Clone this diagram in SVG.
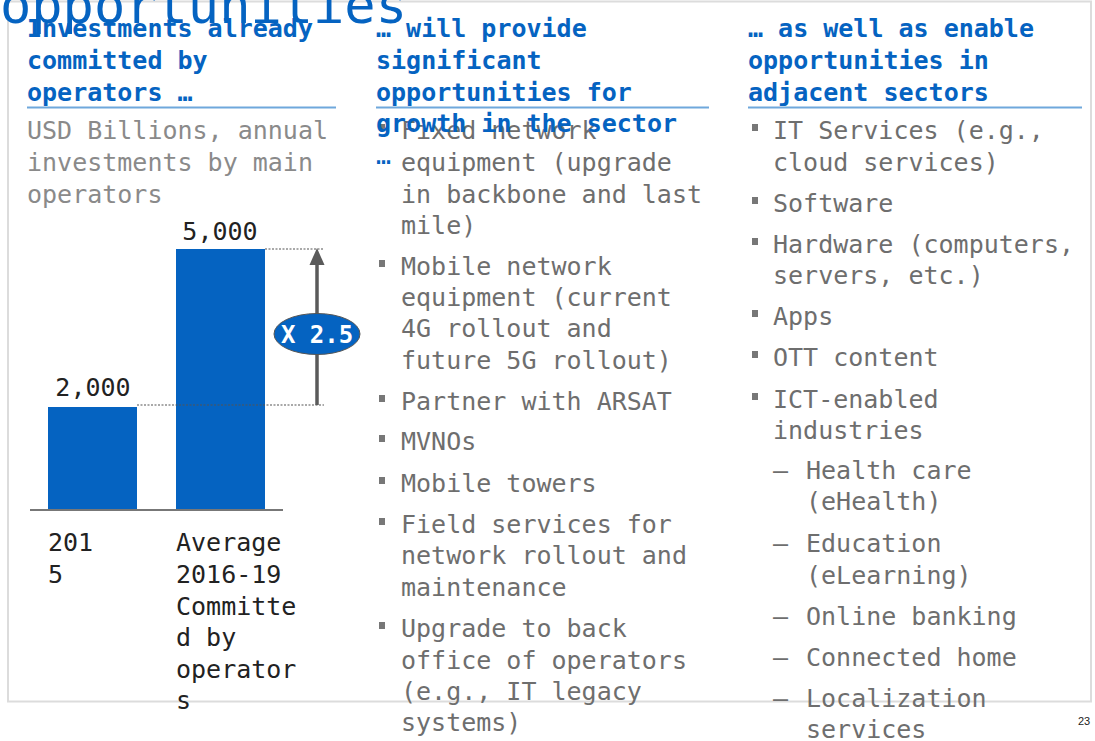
<svg xmlns="http://www.w3.org/2000/svg" width="1095" height="741" viewBox="0 0 1095 741">
<style>
text{font-family:"DejaVu Sans Mono","Liberation Mono",monospace;font-size:25px}
.title{font-size:52px;fill:#0563c1}
.hd{font-weight:bold;fill:#0563c1}
.sub{fill:#8a8a8a}
.bl{fill:#6e6e6e}
.lbl{fill:#222}
.rule{stroke:#6fa8dc;stroke-width:2}
.bul{fill:#777}
.bar{fill:#0563c1}
.dot{stroke:#555;stroke-width:1.2;stroke-dasharray:2 1.5}
</style>
<rect x="8" y="1.5" width="1083" height="700" fill="#fff" stroke="#dcdcdc" stroke-width="2"/>
<text class="title" x="0" y="23">opportunities</text>

<g id="col1">
<text class="hd" x="27" y="37">Investments already</text>
<text class="hd" x="27" y="69">committed by</text>
<text class="hd" x="27" y="101">operators …</text>
<line class="rule" x1="27" y1="107.5" x2="336" y2="107.5"/>
<text class="sub" x="27" y="139">USD Billions, annual</text>
<text class="sub" x="27" y="171">investments by main</text>
<text class="sub" x="27" y="203">operators</text>
</g>

<g id="chart">
<rect class="bar" x="48" y="407" width="89" height="103"/>
<rect class="bar" x="176" y="249" width="89" height="261"/>
<line x1="30" y1="510" x2="283" y2="510" stroke="#777" stroke-width="2"/>
<text class="lbl" x="93" y="396" text-anchor="middle">2,000</text>
<text class="lbl" x="220" y="240" text-anchor="middle">5,000</text>
<text class="lbl" x="48" y="551">201</text>
<text class="lbl" x="48" y="583">5</text>
<text class="lbl" x="176" y="551">Average</text>
<text class="lbl" x="176" y="583">2016-19</text>
<text class="lbl" x="176" y="615">Committe</text>
<text class="lbl" x="176" y="646">d by</text>
<text class="lbl" x="176" y="678">operator</text>
<text class="lbl" x="176" y="709">s</text>
</g>

<g id="connectors">
<line class="dot" x1="137" y1="405" x2="324" y2="405"/>
<line class="dot" x1="265" y1="249" x2="324" y2="249"/>
<line x1="317" y1="405" x2="317" y2="262" stroke="#5a5a5a" stroke-width="3.5"/>
<polygon points="317,248 309.5,265 324.5,265" fill="#5a5a5a"/>
</g>

<g id="factor">
<ellipse cx="317" cy="334" rx="43" ry="20.5" fill="#0563c1" stroke="#555" stroke-width="1"/>
<text x="317" y="343" text-anchor="middle" font-weight="bold" fill="#fff" style="font-size:24px">X 2.5</text>
</g>

<g id="col2">
<text class="hd" x="376" y="37">… will provide</text>
<text class="hd" x="376" y="69">significant</text>
<text class="hd" x="376" y="101">opportunities for</text>
<line class="rule" x1="376" y1="107.5" x2="709" y2="107.5"/>
<rect class="bul" x="379" y="124" width="6" height="7"/>
<text class="bl" x="401" y="139">Fixed network</text>
<text class="hd" x="376" y="132">growth in the sector</text>
<text x="376" y="164" fill="#0563c1">…</text>
<text class="bl" x="401" y="171">equipment (upgrade</text>
<text class="bl" x="401" y="203">in backbone and last</text>
<text class="bl" x="401" y="234">mile)</text>
<rect class="bul" x="379" y="260" width="6" height="7"/>
<text class="bl" x="401" y="275">Mobile network</text>
<text class="bl" x="401" y="306">equipment (current</text>
<text class="bl" x="401" y="337">4G rollout and</text>
<text class="bl" x="401" y="369">future 5G rollout)</text>
<rect class="bul" x="379" y="395" width="6" height="7"/>
<text class="bl" x="401" y="410">Partner with ARSAT</text>
<rect class="bul" x="379" y="435" width="6" height="7"/>
<text class="bl" x="401" y="450">MVNOs</text>
<rect class="bul" x="379" y="477" width="6" height="7"/>
<text class="bl" x="401" y="492">Mobile towers</text>
<rect class="bul" x="379" y="518" width="6" height="7"/>
<text class="bl" x="401" y="533">Field services for</text>
<text class="bl" x="401" y="564">network rollout and</text>
<text class="bl" x="401" y="596">maintenance</text>
<rect class="bul" x="379" y="622" width="6" height="7"/>
<text class="bl" x="401" y="637">Upgrade to back</text>
<text class="bl" x="401" y="669">office of operators</text>
<text class="bl" x="401" y="700">(e.g., IT legacy</text>
<text class="bl" x="401" y="731">systems)</text>
</g>

<g id="col3">
<text class="hd" x="748" y="37">… as well as enable</text>
<text class="hd" x="748" y="69">opportunities in</text>
<text class="hd" x="748" y="101">adjacent sectors</text>
<line class="rule" x1="748" y1="107.5" x2="1082" y2="107.5"/>
<rect class="bul" x="752" y="124" width="6" height="7"/>
<text class="bl" x="773" y="139">IT Services (e.g.,</text>
<text class="bl" x="773" y="171">cloud services)</text>
<rect class="bul" x="752" y="197" width="6" height="7"/>
<text class="bl" x="773" y="212">Software</text>
<rect class="bul" x="752" y="238" width="6" height="7"/>
<text class="bl" x="773" y="253">Hardware (computers,</text>
<text class="bl" x="773" y="284">servers, etc.)</text>
<rect class="bul" x="752" y="310" width="6" height="7"/>
<text class="bl" x="773" y="325">Apps</text>
<rect class="bul" x="752" y="351" width="6" height="7"/>
<text class="bl" x="773" y="366">OTT content</text>
<rect class="bul" x="752" y="393" width="6" height="7"/>
<text class="bl" x="773" y="408">ICT-enabled</text>
<text class="bl" x="773" y="439">industries</text>
<text class="bl" x="773" y="479">–</text>
<text class="bl" x="806" y="479">Health care</text>
<text class="bl" x="806" y="510">(eHealth)</text>
<text class="bl" x="773" y="552">–</text>
<text class="bl" x="806" y="552">Education</text>
<text class="bl" x="806" y="584">(eLearning)</text>
<text class="bl" x="773" y="625">–</text>
<text class="bl" x="806" y="625">Online banking</text>
<text class="bl" x="773" y="666">–</text>
<text class="bl" x="806" y="666">Connected home</text>
<text class="bl" x="773" y="707">–</text>
<text class="bl" x="806" y="707">Localization</text>
<text class="bl" x="806" y="738">services</text>
</g>
<text x="1078" y="725" style="font-family:'Liberation Sans',Arial,sans-serif;font-size:11px" fill="#222">23</text>
</svg>
